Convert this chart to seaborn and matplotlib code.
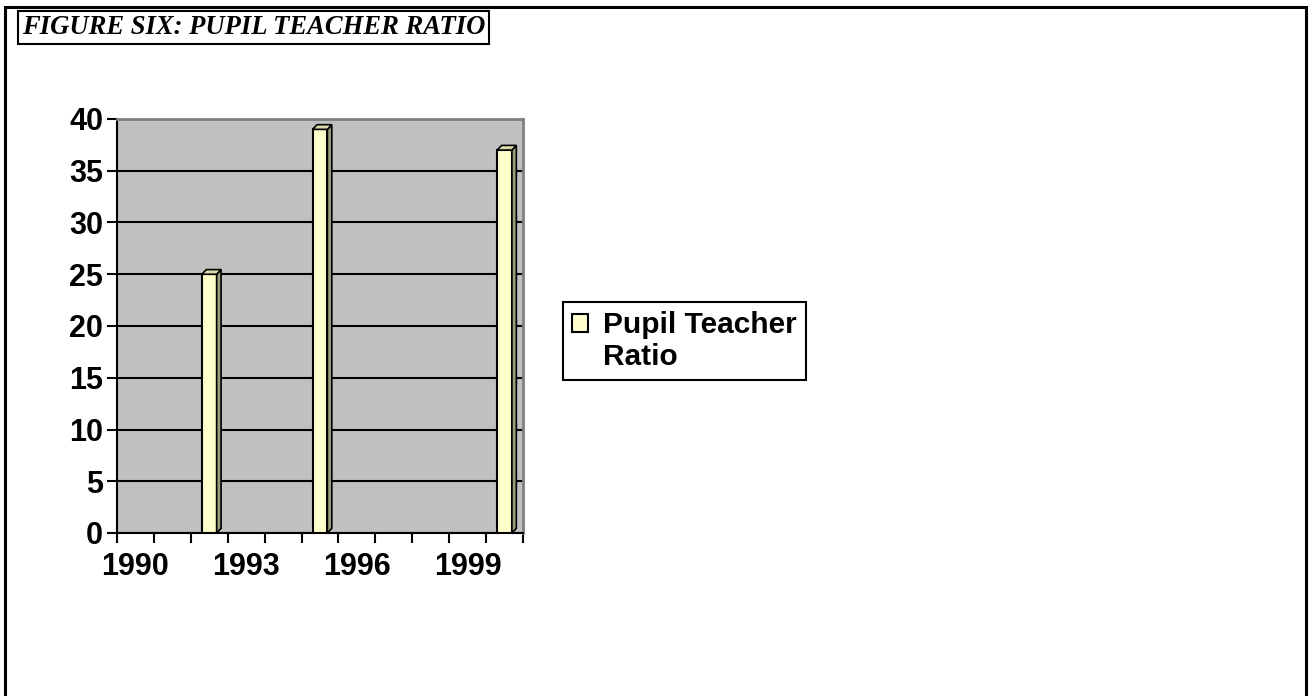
import numpy as np
import pandas as pd
import seaborn as sns
import matplotlib.pyplot as plt
from matplotlib.patches import Rectangle, Polygon
from matplotlib.container import BarContainer
from matplotlib.legend_handler import HandlerPatch, update_from_first_child

# data
years = list(range(1990, 2001))
ratio_years = [1992, 1995, 2000]
ratio_values = [25, 39, 37]
label_years = [1990, 1993, 1996, 1999]

df = pd.DataFrame({'year': ratio_years, 'ratio': ratio_values})

sns.set_theme(style='ticks')
plt.rcParams['font.family'] = ['Liberation Sans', 'DejaVu Sans']
plt.rcParams['text.color'] = 'black'
plt.rcParams['xtick.color'] = 'black'
plt.rcParams['ytick.color'] = 'black'

W, H = 1309, 696
fig = plt.figure(figsize=(W / 100, H / 100), dpi=100)
ax = fig.add_axes([117 / W, 1 - 533 / H, 406 / W, 414 / H])
ax.set_facecolor('#C0C0C0')

sns.barplot(data=df, x='year', y='ratio', order=years, color='#FFFFCC',
            saturation=1, width=0.4, edgecolor='black', linewidth=1.5,
            label='Pupil Teacher\nRatio', ax=ax, zorder=3)

# fake 3d side + top on each bar
dx, dy = 0.12, 0.45
for p in list(ax.patches):
    h = p.get_height()
    if not np.isfinite(h) or h <= 0:
        continue
    x0, w = p.get_x(), p.get_width()
    side = Polygon([(x0 + w, 0), (x0 + w + dx, dy), (x0 + w + dx, h + dy), (x0 + w, h)],
                   closed=True, fc='#9C9C78', ec='black', lw=1.2, zorder=3)
    top = Polygon([(x0, h), (x0 + dx, h + dy), (x0 + w + dx, h + dy), (x0 + w, h)],
                  closed=True, fc='#DCDCAA', ec='black', lw=1.2, zorder=3)
    ax.add_patch(side)
    ax.add_patch(top)

ax.set_xlim(-0.5, 10.5)
ax.set_ylim(0, 40)
ax.set_yticks(range(0, 41, 5))
ax.set_yticklabels([str(v) for v in range(0, 41, 5)], fontsize=22, fontweight='bold')
ax.yaxis.grid(True, color='black', lw=1.5)
ax.set_axisbelow(True)

ax.set_xticks(np.arange(-0.5, 11, 1))
ax.set_xticklabels([])
ax.set_xticks([years.index(y) for y in label_years], [str(y) for y in label_years],
              minor=True, fontsize=22, fontweight='bold')
ax.tick_params(axis='x', which='major', direction='out', length=7, width=1.5, color='black')
ax.tick_params(axis='x', which='minor', length=0, pad=14)
ax.tick_params(axis='y', direction='out', length=7, width=1.5, color='black', pad=3)
ax.set_xlabel('')
ax.set_ylabel('')

for s in ['left', 'bottom']:
    ax.spines[s].set_color('black')
    ax.spines[s].set_linewidth(1.5)
for s in ['top', 'right']:
    ax.spines[s].set_color('#808080')
    ax.spines[s].set_linewidth(2)


def top_square(legend, orig_handle, xdescent, ydescent, width, height, fontsize):
    # put the swatch next to the first line of the label
    return Rectangle((-xdescent, -ydescent + 0.62 * fontsize), width, height)


leg = ax.legend(loc='upper left', bbox_to_anchor=(563 / W, 1 - 302 / H),
                bbox_transform=fig.transFigure, frameon=True, fancybox=False,
                edgecolor='black', framealpha=1, handlelength=0.55, handleheight=0.55,
                handletextpad=0.5, borderpad=0.3, borderaxespad=0,
                handler_map={BarContainer: HandlerPatch(patch_func=top_square,
                                                        update_func=update_from_first_child)},
                prop={'weight': 'bold', 'size': 21.5})
leg.get_frame().set_linewidth(1.5)

fig.text(22 / W, 1 - 27 / H, 'FIGURE SIX: PUPIL TEACHER RATIO',
         family=['Liberation Serif', 'DejaVu Serif'], weight='bold', style='italic',
         size=19.2, va='center', ha='left',
         bbox=dict(boxstyle='square,pad=0.15', fc='white', ec='black', lw=1.5))

fig.add_artist(Rectangle((5 / W, -0.05), (1306 - 5) / W, 1 - 7 / H + 0.05,
                         transform=fig.transFigure, fill=False, ec='black', lw=2.2))

fig.savefig('out.png', dpi=100)
